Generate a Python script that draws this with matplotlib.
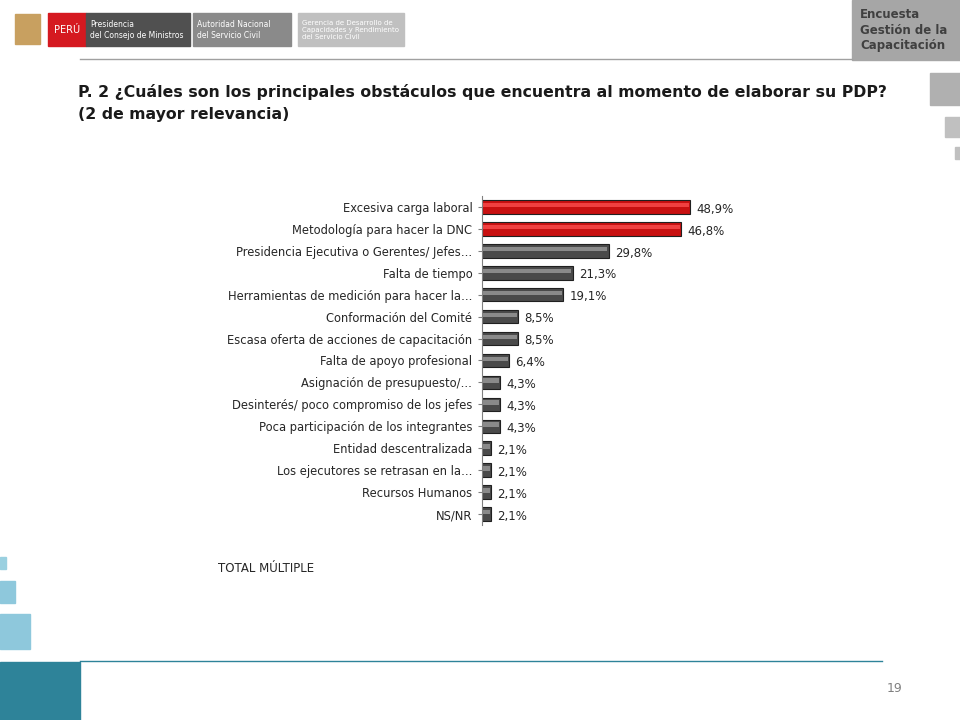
import matplotlib.pyplot as plt
from matplotlib.patches import Rectangle

categories = ["Excesiva carga laboral", "Metodología para hacer la DNC",
              "Presidencia Ejecutiva o Gerentes/ Jefes…", "Falta de tiempo",
              "Herramientas de medición para hacer la…", "Conformación del Comité",
              "Escasa oferta de acciones de capacitación", "Falta de apoyo profesional",
              "Asignación de presupuesto/…", "Desinterés/ poco compromiso de los jefes",
              "Poca participación de los integrantes", "Entidad descentralizada",
              "Los ejecutores se retrasan en la…", "Recursos Humanos", "NS/NR"]
values = [48.9, 46.8, 29.8, 21.3, 19.1, 8.5, 8.5, 6.4, 4.3, 4.3, 4.3, 2.1, 2.1, 2.1, 2.1]
highlight = [True, True] + [False] * 13

fig = plt.figure(figsize=(9.6, 7.2), dpi=100)
fig.patch.set_facecolor("white")

def px(x, y, w, h, **kw):
    fig.add_artist(Rectangle((x / 960, 1 - (y + h) / 720), w / 960, h / 720,
                             transform=fig.transFigure, **kw))

def tx(x, y, s, **kw):
    fig.text(x / 960, 1 - y / 720, s, **kw)

# header
px(48, 13, 38, 33, color="#d51920")
tx(67, 30, "PERÚ", color="white", fontsize=7, ha="center", va="center")
px(86, 13, 104, 33, color="#505050")
tx(90, 30, "Presidencia\ndel Consejo de Ministros", color="white", fontsize=5.5, va="center")
px(193, 13, 98, 33, color="#8a8a8a")
tx(197, 30, "Autoridad Nacional\ndel Servicio Civil", color="white", fontsize=5.5, va="center")
px(298, 13, 106, 33, color="#c0c0c0")
tx(302, 30, "Gerencia de Desarrollo de\nCapacidades y Rendimiento\ndel Servicio Civil", color="white", fontsize=5, va="center")
px(15, 14, 25, 30, color="#c8a060")
px(852, 0, 108, 60, color="#a6a6a6")
tx(860, 30, "Encuesta\nGestión de la\nCapacitación", color="#404040", fontsize=8.5, fontweight="bold", va="center")
fig.add_artist(plt.Line2D([80 / 960, 852 / 960], [1 - 59 / 720] * 2, color="#a0a0a0", lw=1))
px(930, 73, 30, 32, color="#b0b0b0")
px(945, 117, 15, 20, color="#c0c0c0")
px(955, 147, 5, 12, color="#c0c0c0")

# title
tx(78, 103, "P. 2 ¿Cuáles son los principales obstáculos que encuentra al momento de elaborar su PDP?\n(2 de mayor relevancia)",
   fontsize=11.3, fontweight="bold", color="#1a1a1a", va="center", linespacing=1.5)

# footer / left blocks
px(0, 557, 6, 12, color="#9ad0e0")
px(0, 581, 15, 22, color="#8ec8dc")
px(0, 614, 30, 35, color="#8ec8dc")
px(0, 662, 80, 58, color="#2e8399")
fig.add_artist(plt.Line2D([80 / 960, 882 / 960], [1 - 661 / 720] * 2, color="#2e8399", lw=1))
tx(895, 688, "19", fontsize=9, color="#808080", ha="center", va="center")
tx(218, 568, "TOTAL MÚLTIPLE", fontsize=8.5, color="#262626", va="center")

# chart
ax = fig.add_axes([482 / 960, 1 - 525 / 720, 425 / 960, 329 / 720])
ypos = list(range(len(categories)))
for yi, v, h in zip(ypos, values, highlight):
    base = "#c81010" if h else "#4a4a4a"
    light = "#f04040" if h else "#8a8a8a"
    ax.barh(yi, v, height=0.62, color=base, edgecolor="#202020", linewidth=0.8)
    ax.barh(yi - 0.08, v - 0.6, left=0.3, height=0.2, color=light, linewidth=0)
    ax.text(v + 1.5, yi + 0.1, f"{v:.1f}%".replace(".", ","), va="center", fontsize=8.5, color="#262626")
ax.set_xlim(0, 100)
ax.set_ylim(len(categories) - 0.5, -0.5)
ax.set_yticks(ypos)
ax.set_yticklabels(categories, fontsize=8.3, color="#262626")
ax.tick_params(axis="y", length=3, color="#808080", pad=4)
ax.set_xticks([])
for s in ["top", "right", "bottom"]:
    ax.spines[s].set_visible(False)
ax.spines["left"].set_color("#808080")
ax.patch.set_alpha(0)

fig.savefig("out.png", dpi=100)
